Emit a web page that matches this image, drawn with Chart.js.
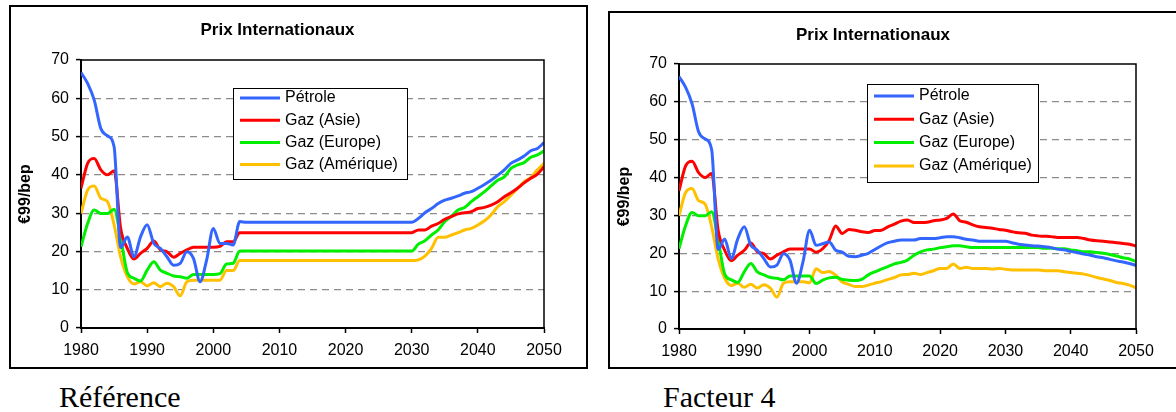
<!DOCTYPE html>
<html>
<head>
<meta charset="utf-8">
<title>Prix Internationaux</title>
<script src="https://cdn.jsdelivr.net/npm/chart.js@4"></script>
<style>
body { margin: 0; width: 1176px; height: 412px; overflow: hidden; background: #fff; position: relative; }
.box { position: absolute; border: 2px solid #000; box-sizing: border-box; background: #fff; }
#boxRef { left: 9px; top: 5px; width: 579px; height: 364px; }
#boxF4 { left: 608px; top: 11px; width: 580px; height: 358px; }
.box canvas { display: block; }
.caption { position: absolute; font-family: "Liberation Serif", "Times New Roman", serif; font-size: 30px; line-height: 30px; color: #000; }
#capRef { left: 59px; top: 382px; }
#capF4 { left: 663px; top: 382px; }
</style>
</head>
<body>
<div class="box" id="boxRef"><canvas id="chartRef" width="575" height="360"></canvas></div>
<div class="box" id="boxF4"><canvas id="chartF4" width="576" height="354"></canvas></div>
<div class="caption" id="capRef">Référence</div>
<div class="caption" id="capF4">Facteur 4</div>
<script>
const years = [1980, 1981, 1982, 1983, 1984, 1985, 1986, 1987, 1988, 1989,
    1990, 1991, 1992, 1993, 1994, 1995, 1996, 1997, 1998, 1999,
    2000, 2001, 2002, 2003, 2004, 2005, 2006, 2007, 2008, 2009,
    2010, 2011, 2012, 2013, 2014, 2015, 2016, 2017, 2018, 2019,
    2020, 2021, 2022, 2023, 2024, 2025, 2026, 2027, 2028, 2029,
    2030, 2031, 2032, 2033, 2034, 2035, 2036, 2037, 2038, 2039,
    2040, 2041, 2042, 2043, 2044, 2045, 2046, 2047, 2048, 2049, 2050];

const seriesNames = ['Pétrole', 'Gaz (Asie)', 'Gaz (Europe)', 'Gaz (Amérique)'];
const seriesColors = ['#3366ff', '#ff0000', '#00ee00', '#ffc000'];

// 1980-1999, same in both scenarios
const histPetrole = [66.7, 63.9, 59.5, 52.1, 50.2, 47.4, 21.0, 23.8, 18.6, 23.8,
    27.0, 22.1, 20.8, 18.6, 16.4, 16.9, 19.9, 18.2, 12.1, 17.8];
const histGazAsie = [36.5, 43.0, 44.3, 41.3, 40.0, 41.1, 26.0, 20.8, 18.0, 19.5,
    20.8, 22.7, 20.4, 19.9, 18.5, 19.5, 20.4, 21.1, 21.1, 21.1];
const histGazEurope = [21.2, 27.3, 30.8, 29.9, 29.9, 31.0, 23.5, 14.5, 13.0, 12.3,
    15.1, 17.3, 15.1, 14.3, 13.6, 13.4, 13.0, 14.0, 14.0, 14.0];
const histGazAmerique = [29.9, 36.0, 37.1, 33.9, 33.0, 27.0, 18.5, 13.4, 11.5, 12.1,
    11.0, 11.8, 10.8, 11.7, 10.8, 8.4, 12.1, 12.5, 12.5, 12.5];

// 2000-2050, Référence
const refPetrole = [26.0, 22.1, 22.1, 21.7, 27.8, 27.6, 27.6, 27.6, 27.6, 27.6,
    27.6, 27.6, 27.6, 27.6, 27.6, 27.6, 27.6, 27.6, 27.6, 27.6,
    27.6, 27.6, 27.6, 27.6, 27.6, 27.6, 27.6, 27.6, 27.6, 27.6,
    27.6, 28.6, 30.1, 31.2, 32.5, 33.4, 33.9, 34.5, 35.2, 35.6,
    36.5, 37.5, 38.6, 39.9, 41.3, 43.0, 43.9, 44.9, 46.3, 46.9, 48.4];
const refGazAsie = [21.1, 21.3, 22.5, 22.5, 24.9, 24.9, 24.9, 24.9, 24.9, 24.9,
    24.9, 24.9, 24.9, 24.9, 24.9, 24.9, 24.9, 24.9, 24.9, 24.9,
    24.9, 24.9, 24.9, 24.9, 24.9, 24.9, 24.9, 24.9, 24.9, 24.9,
    24.9, 25.6, 25.6, 26.6, 27.3, 28.4, 29.1, 29.8, 30.1, 30.4,
    31.2, 31.5, 32.1, 33.0, 34.3, 35.3, 36.5, 37.9, 39.1, 40.2, 42.1];
const refGazEurope = [14.0, 14.2, 16.7, 16.9, 20.1, 20.1, 20.1, 20.1, 20.1, 20.1,
    20.1, 20.1, 20.1, 20.1, 20.1, 20.1, 20.1, 20.1, 20.1, 20.1,
    20.1, 20.1, 20.1, 20.1, 20.1, 20.1, 20.1, 20.1, 20.1, 20.1,
    20.1, 21.9, 22.8, 24.3, 25.6, 27.8, 29.2, 30.8, 31.5, 33.0,
    34.3, 35.6, 37.1, 38.6, 39.5, 41.7, 42.6, 43.2, 44.6, 45.2, 46.3];
const refGazAmerique = [12.5, 12.5, 15.0, 15.0, 17.6, 17.6, 17.6, 17.6, 17.6, 17.6,
    17.6, 17.6, 17.6, 17.6, 17.6, 17.6, 17.6, 17.6, 17.6, 17.6,
    17.6, 17.6, 17.6, 17.6, 17.6, 17.6, 17.6, 17.6, 17.6, 17.6,
    17.6, 17.8, 18.8, 20.8, 23.7, 23.7, 24.3, 24.9, 25.6, 26.0,
    26.9, 28.0, 29.5, 31.7, 33.0, 34.7, 36.5, 38.2, 39.3, 41.3, 43.0];

// 2000-2050, Facteur 4
const f4Petrole = [26.1, 22.1, 22.5, 23.0, 20.8, 20.3, 19.2, 19.1, 19.5, 20.0,
    21.0, 22.0, 22.8, 23.2, 23.5, 23.5, 23.5, 23.9, 23.9, 23.9,
    24.1, 24.4, 24.4, 24.1, 23.7, 23.5, 23.2, 23.2, 23.2, 23.2,
    23.2, 22.8, 22.4, 22.2, 22.0, 21.9, 21.7, 21.5, 21.1, 20.9,
    20.5, 20.2, 19.8, 19.5, 19.1, 18.8, 18.4, 18.0, 17.7, 17.3, 16.8];
const f4GazAsie = [21.1, 20.3, 21.2, 23.4, 27.2, 25.2, 26.3, 26.1, 25.7, 25.5,
    26.0, 26.1, 27.0, 27.7, 28.5, 28.8, 28.1, 28.1, 28.2, 28.6,
    28.8, 29.2, 30.4, 28.6, 28.2, 27.5, 27.0, 26.8, 26.6, 26.3,
    26.1, 25.7, 25.4, 25.3, 24.8, 24.6, 24.5, 24.4, 24.2, 24.2,
    24.2, 24.2, 23.9, 23.5, 23.3, 23.2, 23.0, 22.8, 22.6, 22.4, 21.9];
const f4GazEurope = [14.0, 12.0, 12.9, 13.5, 13.7, 13.1, 12.9, 12.8, 13.1, 14.3,
    15.1, 15.8, 16.5, 17.2, 17.6, 18.2, 19.5, 20.4, 20.9, 21.1,
    21.5, 21.7, 22.0, 22.0, 21.7, 21.5, 21.5, 21.5, 21.5, 21.5,
    21.5, 21.5, 21.5, 21.5, 21.5, 21.5, 21.3, 21.3, 21.2, 21.2,
    20.9, 20.7, 20.4, 20.4, 20.2, 20.0, 19.7, 19.3, 18.8, 18.5, 17.8];
const f4GazAmerique = [12.2, 15.9, 14.9, 15.2, 14.2, 12.4, 11.8, 11.2, 11.2, 11.6,
    12.1, 12.5, 13.1, 13.6, 14.3, 14.4, 14.7, 14.4, 14.9, 15.4,
    16.0, 16.0, 17.2, 16.0, 16.3, 16.0, 16.0, 16.0, 15.8, 16.0,
    15.8, 15.6, 15.6, 15.6, 15.6, 15.6, 15.4, 15.4, 15.4, 15.1,
    14.9, 14.7, 14.5, 14.1, 13.6, 13.2, 12.8, 12.3, 12.0, 11.6, 10.9];

const yTicks = [0, 10, 20, 30, 40, 50, 60, 70];

Chart.defaults.font.family = '"Liberation Sans", Arial, sans-serif';
Chart.defaults.color = '#000';

function buildDatasets(series) {
    return seriesNames.map((name, i) => ({
        label: name,
        data: years.map((yr, j) => ({ x: yr, y: series[i][j] })),
        borderColor: seriesColors[i],
        backgroundColor: seriesColors[i],
        borderWidth: 3,
        pointRadius: 0,
        fill: false,
        cubicInterpolationMode: 'monotone'
    }));
}

// plot area frame (top + right) and the boxed legend inside the plot
const frameLegend = {
    id: 'frameLegend',
    afterDraw(chart, args, opts) {
        const ctx = chart.ctx;
        const a = chart.chartArea;
        ctx.save();
        ctx.strokeStyle = '#000';
        ctx.lineWidth = 1.5;
        ctx.beginPath();
        ctx.moveTo(a.left, a.top);
        ctx.lineTo(a.right, a.top);
        ctx.lineTo(a.right, a.bottom);
        ctx.stroke();

        const x = Math.round(a.left + opts.x);
        const y = Math.round(a.top + opts.y);
        ctx.fillStyle = '#fff';
        ctx.fillRect(x, y, opts.w, opts.h);
        ctx.lineWidth = 1;
        ctx.strokeStyle = '#000';
        ctx.strokeRect(x + 0.5, y + 0.5, opts.w, opts.h);
        ctx.font = '16px "Liberation Sans", Arial, sans-serif';
        ctx.textBaseline = 'middle';
        chart.data.datasets.forEach((ds, i) => {
            const ry = y + opts.first + i * opts.step;
            ctx.strokeStyle = ds.borderColor;
            ctx.lineWidth = 3;
            ctx.beginPath();
            ctx.moveTo(x + 7, ry);
            ctx.lineTo(x + 47, ry);
            ctx.stroke();
            ctx.fillStyle = '#000';
            ctx.fillText(ds.label, x + 52, ry);
        });
        ctx.restore();
    }
};

function makeChart(canvasId, series, g) {
    return new Chart(document.getElementById(canvasId).getContext('2d'), {
        type: 'line',
        data: { datasets: buildDatasets(series) },
        options: {
            responsive: false,
            animation: false,
            layout: { padding: { left: 0, right: g.padRight, top: 0, bottom: 0 } },
            plugins: {
                legend: { display: false },
                tooltip: { enabled: false },
                title: {
                    display: true,
                    text: 'Prix Internationaux',
                    font: { size: 17, weight: 'bold' },
                    color: '#000',
                    padding: { top: g.titleTop, bottom: g.titleBottom }
                },
                frameLegend: g.legend
            },
            scales: {
                x: {
                    type: 'linear',
                    min: 1980,
                    max: 2050,
                    afterFit: scale => { scale.height = g.xHeight; },
                    ticks: {
                        stepSize: 10,
                        font: { size: 16 },
                        color: '#000',
                        padding: 8,
                        maxRotation: 0,
                        callback: v => String(v)
                    },
                    grid: { drawOnChartArea: false, tickLength: 5, tickColor: '#000', tickWidth: 1.5 },
                    border: { color: '#000', width: 2 }
                },
                y: {
                    min: 0,
                    max: 70,
                    afterFit: scale => { scale.width = g.yWidth; },
                    afterBuildTicks: scale => { scale.ticks = yTicks.map(v => ({ value: v })); },
                    ticks: { font: { size: 16 }, color: '#000', padding: 7 },
                    grid: {
                        color: c => (c.tick && (c.tick.value === 0 || c.tick.value === 70)) ? 'rgba(0,0,0,0)' : '#8c8c8c',
                        lineWidth: 1.2,
                        tickLength: 5,
                        tickColor: '#000',
                        tickWidth: 1.5,
                        tickBorderDash: []
                    },
                    border: { color: '#000', width: 2, dash: [7, 5] },
                    title: {
                        display: true,
                        text: '€99/bep',
                        font: { size: 16, weight: 'bold' },
                        color: '#000',
                        padding: { top: 5, bottom: 0 }
                    }
                }
            }
        },
        plugins: [frameLegend]
    });
}

const refChart = makeChart('chartRef',
    [histPetrole.concat(refPetrole), histGazAsie.concat(refGazAsie),
     histGazEurope.concat(refGazEurope), histGazAmerique.concat(refGazAmerique)],
    { yWidth: 70, xHeight: 39, padRight: 42, titleTop: 13, titleBottom: 19.6,
      legend: { x: 152, y: 28, w: 174, h: 91, first: 10, step: 22.2 } });

const f4Chart = makeChart('chartF4',
    [histPetrole.concat(f4Petrole), histGazAsie.concat(f4GazAsie),
     histGazEurope.concat(f4GazEurope), histGazAmerique.concat(f4GazAmerique)],
    { yWidth: 69, xHeight: 38, padRight: 50, titleTop: 12, titleBottom: 18.6,
      legend: { x: 188, y: 20, w: 171, h: 98, first: 12, step: 23.3 } });
</script>
</body>
</html>
